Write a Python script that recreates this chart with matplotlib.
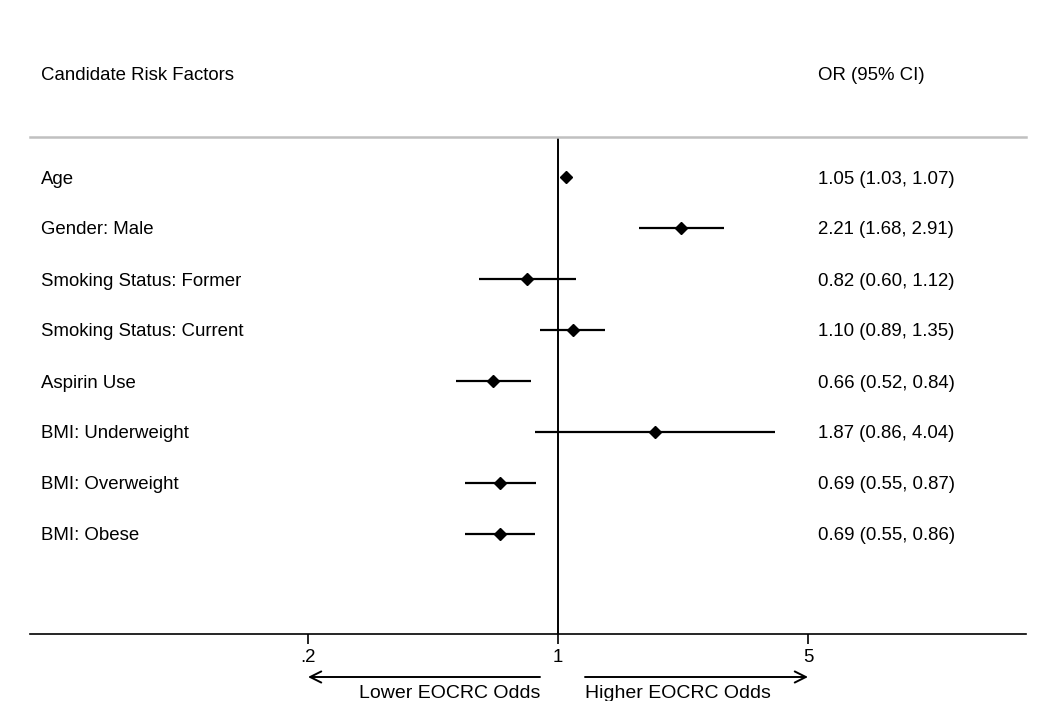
import matplotlib
matplotlib.use("Agg")
import matplotlib.pyplot as plt
import numpy as np

factors = ["Age", "Gender: Male", "Smoking Status: Former", "Smoking Status: Current",
           "Aspirin Use", "BMI: Underweight", "BMI: Overweight", "BMI: Obese"]
odds = [1.05, 2.21, 0.82, 1.10, 0.66, 1.87, 0.69, 0.69]
lower = [1.03, 1.68, 0.60, 0.89, 0.52, 0.86, 0.55, 0.55]
upper = [1.07, 2.91, 1.12, 1.35, 0.84, 4.04, 0.87, 0.86]
tick_vals = [0.2, 1, 5]
tick_labels = [".2", "1", "5"]

plt.rcParams['font.family'] = ['Liberation Sans', 'DejaVu Sans']
FS = 13.4

fig = plt.figure(figsize=(10.5, 7.01), dpi=100)
ax = fig.add_axes([30/1050, 1-634/701, 996/1050, (634-137)/701])
ax.set_xscale('log')
x0 = 10**((30-558)/357.7)
x1 = 10**((1026-558)/357.7)
ax.set_xlim(x0, x1)
ax.set_ylim((634-177)/51, (137-177)/51)

ys = np.arange(len(factors))
ax.hlines(ys, lower, upper, color='black', lw=1.6)
ax.plot(odds, ys, linestyle='none', marker='D', markersize=6.6, color='black')
ax.axvline(1, color='black', lw=1.4)

for s in ['left', 'right', 'top']:
    ax.spines[s].set_visible(False)
ax.spines['bottom'].set_linewidth(1.2)
ax.axhline((137-177)/51, color='#c0c0c0', lw=1.8, clip_on=False)

ax.set_yticks([])
ax.set_xticks(tick_vals)
ax.set_xticklabels(tick_labels, fontsize=FS)
ax.xaxis.set_minor_locator(matplotlib.ticker.NullLocator())
ax.tick_params(axis='x', length=7.5, width=1.2, pad=3.5)

ytr = ax.get_yaxis_transform()
xl = 11/996
xr = (818-30)/996
for i, (f, o, l, u) in enumerate(zip(factors, odds, lower, upper)):
    ax.text(xl, i, f, transform=ytr, va='center_baseline', ha='left', fontsize=FS)
    ax.text(xr, i, f"{o:.2f} ({l:.2f}, {u:.2f})", transform=ytr,
            va='center_baseline', ha='left', fontsize=FS)

hy = (74-177)/51
ax.text(xl, hy, "Candidate Risk Factors", transform=ytr,
        va='center_baseline', ha='left', fontsize=FS, clip_on=False)
ax.text(xr, hy, "OR (95% CI)", transform=ytr,
        va='center_baseline', ha='left', fontsize=FS, clip_on=False)

# arrows below axis
ay = (677-177)/51
xa_l = 10**((540-558)/357.7)
xa_r = 10**((585-558)/357.7)
ax.annotate("", xy=(0.2, ay), xytext=(xa_l, ay), xycoords='data',
            arrowprops=dict(arrowstyle='->', lw=1.4, color='black', mutation_scale=20,
                            shrinkA=0, shrinkB=0),
            annotation_clip=False)
ax.annotate("", xy=(5, ay), xytext=(xa_r, ay), xycoords='data',
            arrowprops=dict(arrowstyle='->', lw=1.4, color='black', mutation_scale=20,
                            shrinkA=0, shrinkB=0),
            annotation_clip=False)
ty = (698-177)/51
ax.text(xa_l, ty, "Lower EOCRC Odds", ha='right', va='baseline', fontsize=14, clip_on=False)
ax.text(xa_r, ty, "Higher EOCRC Odds", ha='left', va='baseline', fontsize=14, clip_on=False)

fig.savefig("out.png", dpi=100)
